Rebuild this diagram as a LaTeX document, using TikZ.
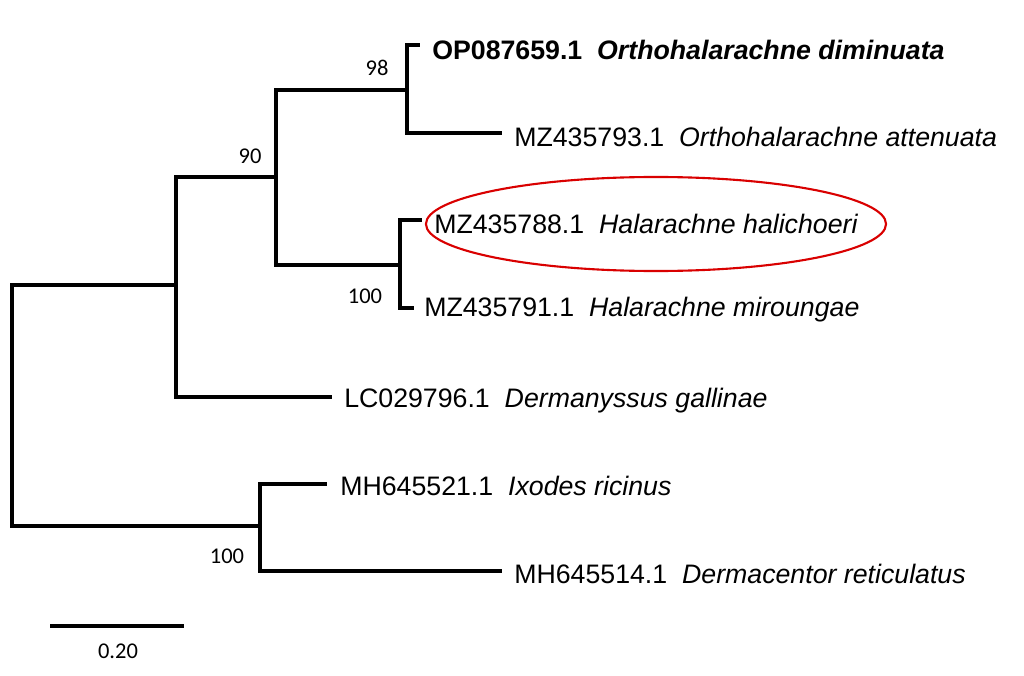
\documentclass[tikz,border=0pt]{standalone}
\usepackage{fontspec}
\setmainfont{Liberation Sans}
\newfontfamily\bootfont{Carlito}
\usetikzlibrary{shapes.geometric}

\tikzset{
  branch/.style={line width=2.2pt, line cap=rect},
  taxon/.style={anchor=west, inner sep=0pt, font=\fontsize{19}{22}\selectfont},
  boot/.style={inner sep=0pt, font=\bootfont\fontsize{16}{19}\selectfont}
}

\begin{document}
\begin{tikzpicture}[x=0.025cm,y=-0.025cm]
        \useasboundingbox (0,0) rectangle (1024,676);

        % The internal nodes
        \coordinate (root) at (12,405);
        \coordinate (nA) at (176,285);
        \coordinate (nB) at (276,177);
        \coordinate (nC) at (407,90);
        \coordinate (nD) at (400,265);
        \coordinate (nE) at (260,526);

        % The tips
        \coordinate (tOP) at (418,45);
        \coordinate (tMZa) at (500,133);
        \coordinate (tMZb) at (420,220);
        \coordinate (tMZc) at (412,308);
        \coordinate (tLC) at (330,397);
        \coordinate (tMHa) at (325,484);
        \coordinate (tMHb) at (500,571);

        % The names
        \node[taxon, font=\fontsize{19}{22}\selectfont\bfseries] (OP) at (432,50) {OP087659.1\ \ \textit{Orthohalarachne diminuata}};
        \node[taxon] (MZa) at (514,137) {MZ435793.1\ \ \textit{Orthohalarachne attenuata}};
        \node[taxon] (MZb) at (434,224) {MZ435788.1\ \ \textit{Halarachne halichoeri}};
        \node[taxon] (MZc) at (424,310) {MZ435791.1\ \ \textit{Halarachne miroungae}};
        \node[taxon] (LC) at (344,401) {LC029796.1\ \ \textit{Dermanyssus gallinae}};
        \node[taxon] (MHa) at (340,486) {MH645521.1\ \ \textit{Ixodes ricinus}};
        \node[taxon] (MHb) at (514,574) {MH645514.1\ \ \textit{Dermacentor reticulatus}};

        % The branches
        \draw[branch] (nA) |- (12,285) -- (12,526) -| (nE);
        \draw[branch] (nB) -- (176,177) -- (176,397) -- (tLC);
        \draw[branch] (nC) -- (276,90) -- (276,265) -- (nD);
        \draw[branch] (tOP) -| (407,133) -- (tMZa);
        \draw[branch] (tMZb) -| (400,308) -- (tMZc);
        \draw[branch] (tMHa) -| (260,571) -- (tMHb);

        % The support values
        \node[boot] (b98) at (377,68) {98};
        \node[boot] (b90) at (250,156) {90};
        \node[boot] (b100a) at (365,296) {100};
        \node[boot] (b100b) at (227,556) {100};

        % The highlight
        \node[draw=red!85!black, line width=1.5pt, ellipse, minimum width=11.5cm, minimum height=2.35cm] (hl) at (656,224) {};

        % The scale bar
        \coordinate (sL) at (52,626);
        \coordinate (sR) at (182,626);
        \draw[branch] (sL) -- (sR);
        \node[boot] (scale) at (118,651) {0.20};
\end{tikzpicture}
\end{document}
